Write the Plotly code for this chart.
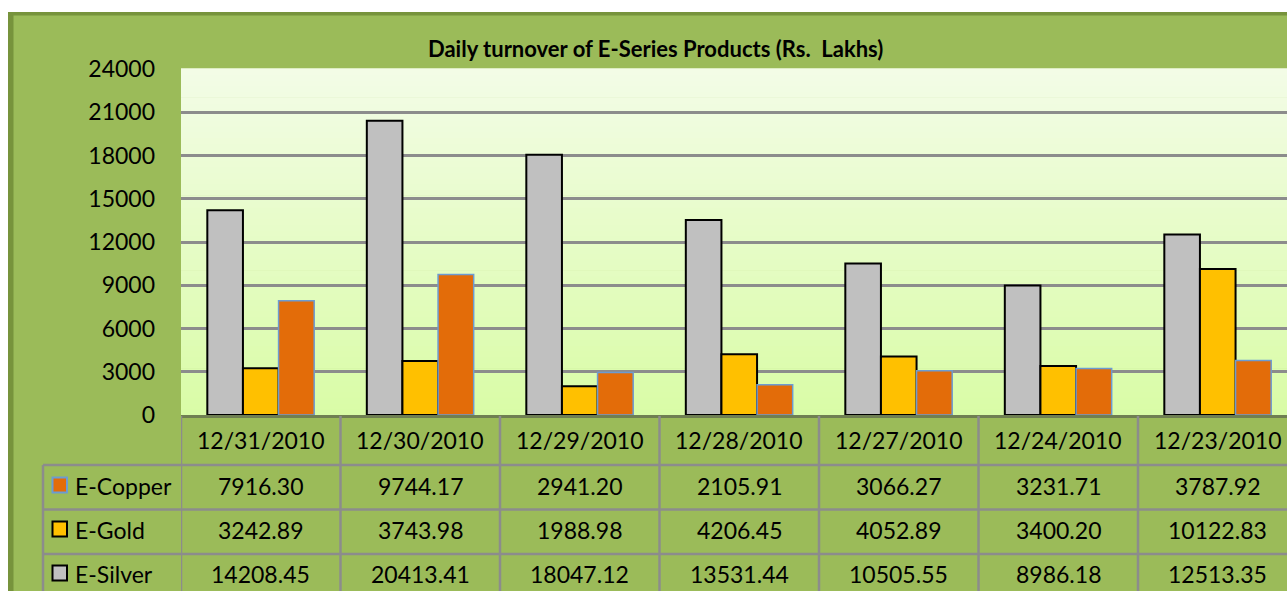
import plotly.graph_objects as go

# ---- data ----
dates = ["12/31/2010", "12/30/2010", "12/29/2010", "12/28/2010",
         "12/27/2010", "12/24/2010", "12/23/2010"]
silver = [14208.45, 20413.41, 18047.12, 13531.44, 10505.55, 8986.18, 12513.35]
gold = [3242.89, 3743.98, 1988.98, 4206.45, 4052.89, 3400.20, 10122.83]
copper = [7916.30, 9744.17, 2941.20, 2105.91, 3066.27, 3231.71, 3787.92]
series_names = ["E-Silver", "E-Gold", "E-Copper"]
y_ticks = list(range(0, 24001, 3000))
title_text = "Daily turnover of E-Series Products (Rs.\u00a0 Lakhs)"

# ---- layout geometry (page pixels) ----
FW, FH = 1287, 591
L, R, T, B = 181, 1287, 69, 415          # plot area in page pixels
W, H = R - L, B - T
CAT_W = 159.5


def px(x):
    return (x - L) / W


def py(y):
    return (B - y) / H


FONT = "Lato, 'Open Sans', sans-serif"
grid_col = "#8C8C8C"
silver_fill, gold_fill, copper_fill = "#C0C0C0", "#FFC000", "#E36C09"
copper_line = "#6C9BD2"

fig = go.Figure()
fig.add_trace(go.Bar(x=dates, y=silver, name=series_names[0],
                     marker=dict(color=silver_fill, line=dict(color="#000000", width=2))))
fig.add_trace(go.Bar(x=dates, y=gold, name=series_names[1],
                     marker=dict(color=gold_fill, line=dict(color="#000000", width=2))))
fig.add_trace(go.Bar(x=dates, y=copper, name=series_names[2],
                     marker=dict(color=copper_fill, line=dict(color=copper_line, width=1.5))))

shapes = []
# chart area background + dark border strips
shapes.append(dict(type="rect", xref="paper", yref="paper", x0=px(8), x1=px(1300),
                   y0=py(600), y1=py(12), fillcolor="#9BBB59", line=dict(width=0), layer="below"))
shapes.append(dict(type="rect", xref="paper", yref="paper", x0=px(8), x1=px(13.5),
                   y0=py(600), y1=py(12), fillcolor="#77933C", line=dict(width=0), layer="below"))
shapes.append(dict(type="rect", xref="paper", yref="paper", x0=px(8), x1=px(1300),
                   y0=py(15.5), y1=py(12), fillcolor="#77933C", line=dict(width=0), layer="below"))

# plot-area vertical gradient
top_c = (243, 252, 231)
bot_c = (217, 252, 166)
N = 60
for i in range(N):
    f = (i + 0.5) / N
    c = tuple(round(bot_c[k] + (top_c[k] - bot_c[k]) * f) for k in range(3))
    shapes.append(dict(type="rect", xref="paper", yref="paper", x0=0, x1=1,
                       y0=i / N, y1=(i + 1) / N + 0.002,
                       fillcolor="rgb(%d,%d,%d)" % c, line=dict(width=0), layer="below"))

# data table grid
row_lines = [465, 509.5, 554, 598.5]
for yl in row_lines:
    shapes.append(dict(type="line", xref="paper", yref="paper", x0=px(43), x1=px(1300),
                       y0=py(yl), y1=py(yl), line=dict(color=grid_col, width=2.5), layer="above"))
shapes.append(dict(type="line", xref="paper", yref="paper", x0=px(43), x1=px(43),
                   y0=py(465), y1=py(600), line=dict(color=grid_col, width=2.5), layer="above"))
for k in range(len(dates) + 1):
    shapes.append(dict(type="line", xref="x", yref="paper", x0=k - 0.5, x1=k - 0.5,
                       y0=py(416), y1=py(600), line=dict(color=grid_col, width=2.5), layer="above"))

# table rows (top to bottom)
rows = [("E-Copper", copper, copper_fill, copper_line, 486),
        ("E-Gold", gold, gold_fill, "#000000", 530),
        ("E-Silver", silver, silver_fill, "#000000", 574)]

annotations = []
for name, vals, fill, lc, yc in rows:
    shapes.append(dict(type="rect", xref="paper", yref="paper", x0=px(52.5), x1=px(67),
                       y0=py(yc - 1 + 7.5), y1=py(yc - 1 - 7.5), fillcolor=fill,
                       line=dict(color=lc, width=2), layer="above"))
    annotations.append(dict(xref="paper", yref="paper", x=px(73), y=py(yc),
                            text=name, showarrow=False, xanchor="left", yanchor="middle",
                            font=dict(family=FONT, size=23, color="#000000")))
    for i, v in enumerate(vals):
        annotations.append(dict(xref="x", yref="paper", x=dates[i], y=py(yc),
                                text="%.2f" % v, showarrow=False, xanchor="center",
                                yanchor="middle",
                                font=dict(family=FONT, size=23, color="#000000")))

# date row
for d in dates:
    annotations.append(dict(xref="x", yref="paper", x=d, y=py(440), text=d,
                            showarrow=False, xanchor="center", yanchor="middle",
                            font=dict(family=FONT, size=23, color="#000000")))

# title
annotations.append(dict(xref="paper", yref="paper", x=px(655.5), y=py(48),
                        text="<b>%s</b>" % title_text, showarrow=False,
                        xanchor="center", yanchor="middle",
                        font=dict(family=FONT, size=22, color="#000000")))

fig.update_layout(
    width=FW, height=FH,
    margin=dict(l=L, r=FW - R, t=T, b=FH - B, pad=0),
    paper_bgcolor="#FFFFFF",
    plot_bgcolor="rgba(0,0,0,0)",
    barmode="group", bargap=0.33, bargroupgap=0,
    showlegend=False,
    shapes=shapes,
    annotations=annotations,
    xaxis=dict(type="category", categoryorder="array", categoryarray=dates,
               range=[-0.5, -0.5 + W / CAT_W], showticklabels=False, ticks="",
               showgrid=False, zeroline=False, showline=True,
               linecolor="#6F7F52", linewidth=2.5),
    yaxis=dict(range=[0, 24000], tickvals=y_ticks, tickformat="d",
               showgrid=True, gridcolor=grid_col, gridwidth=2.5, zeroline=False,
               ticks="", ticklabelstandoff=25, showline=False,
               tickfont=dict(family=FONT, size=23, color="#000000")),
)

fig.write_html(
    "out.html",
    config={"displayModeBar": False},
    post_script="document.body.style.margin='0';document.body.style.overflow='hidden';",
)
